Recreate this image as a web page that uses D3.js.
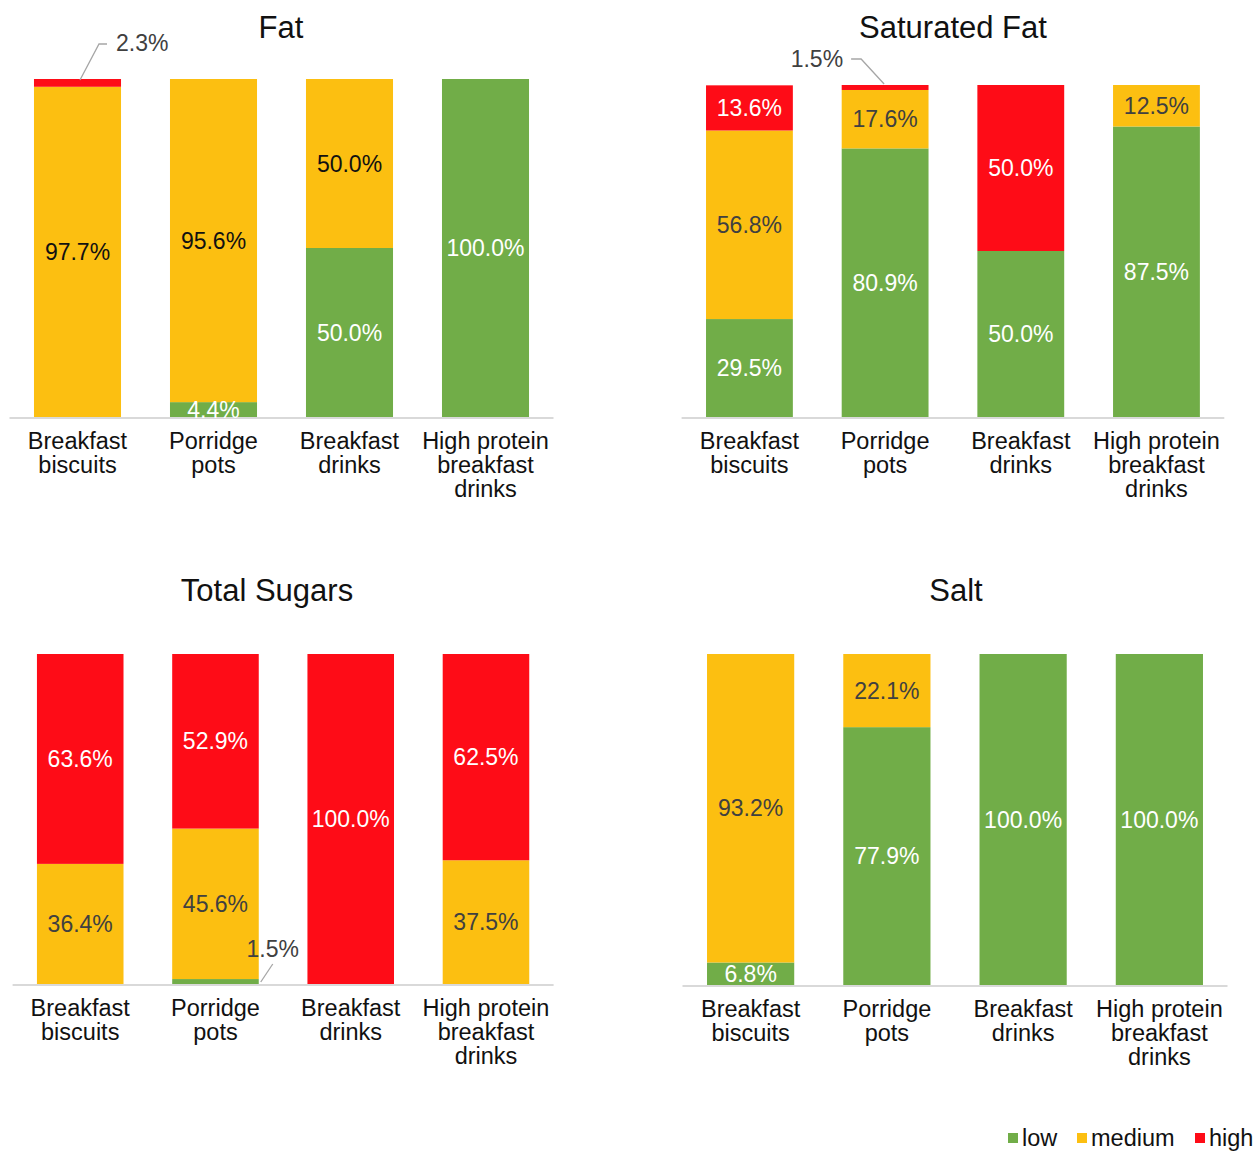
<!DOCTYPE html>
<html><head><meta charset="utf-8">
<script src="https://cdn.jsdelivr.net/npm/d3@7"></script>
<style>
html,body{margin:0;padding:0;background:#fff;}
text{font-family:"Liberation Sans",Arial,Helvetica,sans-serif;}
</style></head>
<body>
<svg id="chart" width="1260" height="1151"></svg>
<script>
// ---- data ----
const categories = [["Breakfast","biscuits"],["Porridge","pots"],["Breakfast","drinks"],["High protein","breakfast","drinks"]];
const levels = ["low","medium","high"];
const colors = {low:"#71AD48", medium:"#FCBF11", high:"#FE0C17"};

const fatLow    = [0, 4.4, 50.0, 100.0];
const fatMedium = [97.7, 95.6, 50.0, 0];
const fatHigh   = [2.3, 0, 0, 0];

const satLow    = [29.5, 80.9, 50.0, 87.5];
const satMedium = [56.8, 17.6, 0, 12.5];
const satHigh   = [13.6, 1.5, 50.0, 0];

const sugLow    = [0, 1.5, 0, 0];
const sugMedium = [36.4, 45.6, 0, 37.5];
const sugHigh   = [63.6, 52.9, 100.0, 62.5];

const saltLow    = [6.8, 77.9, 100.0, 100.0];
const saltMedium = [93.2, 22.1, 0, 0];
const saltHigh   = [0, 0, 0, 0];

const titles = ["Fat","Saturated Fat","Total Sugars","Salt"];

// values shown with a leader line instead of inside the bar: [panel, category, level]
const callouts = [[0,0,"high"],[1,1,"high"],[2,1,"low"]];

// ---- layout ----
const panels = [
  {title:titles[0], low:fatLow, medium:fatMedium, high:fatHigh, x0:9.5, x1:553.5, top:79, bottom:417, tx:281, ty:27, dark:"#111"},
  {title:titles[1], low:satLow, medium:satMedium, high:satHigh, x0:681.6, x1:1224.3, top:85, bottom:417, tx:953, ty:27, dark:"#404040"},
  {title:titles[2], low:sugLow, medium:sugMedium, high:sugHigh, x0:12.6, x1:553.6, top:654, bottom:984, tx:267, ty:590, dark:"#404040"},
  {title:titles[3], low:saltLow, medium:saltMedium, high:saltHigh, x0:682.5, x1:1227.5, top:654, bottom:985, tx:956, ty:590, dark:"#404040"}
];
// leader line geometry per callout (offsets relative to segment anchor)
const calloutGeom = [
  {ax:2.5, ay:1, pts:[[19,-36],[27,-36]], tx:36, ty:-37, anchor:"start"},
  {ax:-1, ay:-1, pts:[[-23,-25],[-33,-25]], tx:-41, ty:-25, anchor:"end"},
  {ax:2, ay:-2, pts:[[12,-18]], tx:12, ty:-33, anchor:"middle"}
];

const FS_LABEL = 23, FS_CAT = 23.5, FS_TITLE = 31, FS_LEG = 23.5;

const svg = d3.select("#chart");
const catKeys = categories.map((c,i)=>i);

panels.forEach((p, pi) => {
  const g = svg.append("g");
  const x = d3.scaleBand().domain(catKeys).range([p.x0, p.x1]).paddingInner(0.36).paddingOuter(0.18);
  const y = d3.scaleLinear().domain([0,100]).range([p.bottom, p.top]);

  const rows = catKeys.map(i => ({i, low:p.low[i], medium:p.medium[i], high:p.high[i]}));
  const stacked = d3.stack().keys(levels)(rows);

  stacked.forEach(layer => {
    const lv = layer.key;
    g.selectAll(null).data(layer).enter().append("rect")
      .attr("x", d => x(d.data.i))
      .attr("width", x.bandwidth())
      .attr("y", d => y(d[1]))
      .attr("height", d => y(d[0]) - y(d[1]))
      .attr("fill", colors[lv]);
  });

  // baseline
  g.append("line").attr("x1", p.x0).attr("x2", p.x1).attr("y1", y(0)+1).attr("y2", y(0)+1)
    .attr("stroke", "#D9D9D9").attr("stroke-width", 2);

  // data labels
  stacked.forEach(layer => {
    const lv = layer.key;
    layer.forEach(d => {
      const v = d[1]-d[0];
      if (v <= 0) return;
      const isCall = callouts.findIndex(c => c[0]===pi && c[1]===d.data.i && c[2]===lv);
      const label = v.toFixed(1) + "%";
      if (isCall >= 0) {
        const cg = calloutGeom[isCall];
        const axp = x(d.data.i) + x.bandwidth()/2 + cg.ax;
        const ayp = (lv==="low") ? y(d[0]) + cg.ay : y(d[1]) + cg.ay;
        const ax = (pi===2) ? x(d.data.i) + x.bandwidth() + cg.ax : axp;
        const pts = [[ax, ayp]].concat(cg.pts.map(q => [ax+q[0], ayp+q[1]]));
        g.append("path").attr("d", d3.line()(pts)).attr("fill","none")
          .attr("stroke","#A6A6A6").attr("stroke-width",1.3);
        g.append("text").attr("x", ax+cg.tx).attr("y", ayp+cg.ty)
          .attr("text-anchor", cg.anchor).attr("dominant-baseline","central")
          .attr("font-size", FS_LABEL).attr("fill", "#404040").text(label);
        return;
      }
      g.append("text")
        .attr("x", x(d.data.i) + x.bandwidth()/2)
        .attr("y", (y(d[0]) + y(d[1]))/2)
        .attr("text-anchor","middle").attr("dominant-baseline","central")
        .attr("font-size", FS_LABEL)
        .attr("fill", lv==="medium" ? p.dark : "#fff")
        .text(label);
    });
  });

  // category labels
  catKeys.forEach(i => {
    const t = g.append("text").attr("text-anchor","middle").attr("font-size",FS_CAT).attr("fill","#111");
    categories[i].forEach((ln, k) => {
      t.append("tspan").attr("x", x(i)+x.bandwidth()/2).attr("y", y(0) + 24 + k*24)
        .attr("dominant-baseline","central").text(ln);
    });
  });

  // title
  svg.append("text").attr("x", p.tx).attr("y", p.ty).attr("text-anchor","middle")
    .attr("dominant-baseline","central").attr("font-size",FS_TITLE).attr("fill","#111").text(p.title);
});

// legend
const legendX = [1008, 1077, 1195];
const lg = svg.append("g");
levels.forEach((lv, k) => {
  lg.append("rect").attr("x", legendX[k]).attr("y", 1133).attr("width", 10).attr("height", 10).attr("fill", colors[lv]);
  lg.append("text").attr("x", legendX[k]+14).attr("y", 1138).attr("dominant-baseline","central")
    .attr("font-size", FS_LEG).attr("fill","#111").text(lv);
});
</script>
</body></html>
